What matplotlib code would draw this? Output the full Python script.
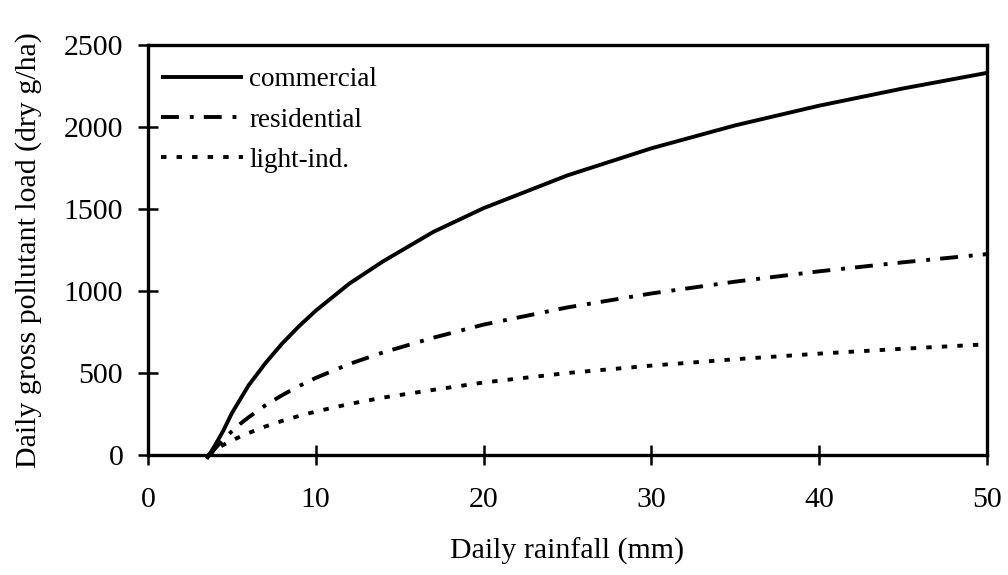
import matplotlib
matplotlib.use("Agg")
import matplotlib.pyplot as plt

# Data
x_com = [3.5, 4, 4.5, 5, 5.5, 6, 7, 8, 9, 10, 12, 14, 17, 20, 25, 30, 35, 40, 45, 50]
y_com = [-24, 60, 150, 255, 340, 425, 560, 680, 785, 880, 1045, 1180, 1360, 1505, 1705, 1870, 2010, 2130, 2235, 2330]

x_res = [3.7, 4, 4.5, 5, 5.5, 6, 7, 8, 9, 10, 12, 14, 17, 20, 25, 30, 35, 40, 45, 50]
y_res = [0, 40, 95, 145, 190, 230, 303, 365, 420, 470, 555, 625, 715, 795, 900, 985, 1057, 1120, 1175, 1225]

x_lin = [3.6, 4, 4.5, 5, 5.5, 6, 7, 8, 9, 10, 12, 14, 17, 20, 25, 30, 35, 40, 45, 50]
y_lin = [0, 31, 62, 88, 112, 134, 174, 208, 238, 265, 311, 350, 397, 442, 500, 545, 584, 618, 648, 675]

x_ticks = [0, 10, 20, 30, 40, 50]
y_ticks = [0, 500, 1000, 1500, 2000, 2500]

plt.rcParams['font.family'] = ['Liberation Serif', 'DejaVu Serif']

fig = plt.figure(figsize=(10.08, 5.75), dpi=100)
ax = fig.add_axes([0.1468, 0.2087, 0.8322, 0.713])

lw = 2.8
ax.plot(x_com, y_com, color='black', lw=lw, solid_capstyle='butt', clip_on=False, label='commercial')
ax.plot(x_res, y_res, color='black', lw=lw, dashes=(4.6, 2.8, 1.0, 2.6), clip_on=False, label='residential')
ax.plot(x_lin, y_lin, color='black', lw=lw, dashes=(1.4, 2.6), clip_on=False, label='light-ind.')

ax.set_xlim(0, 50)
ax.set_ylim(0, 2500)
ax.set_xticks(x_ticks)
ax.set_yticks(y_ticks)
ax.tick_params(axis='both', direction='inout', length=15, width=1.8, labelsize=21.5)
ax.tick_params(axis='y', pad=10.3)
ax.tick_params(axis='x', pad=15.5)
for s in ax.spines.values():
    s.set_linewidth(2.4)

ax.set_xlabel('Daily rainfall (mm)', fontsize=21.5, labelpad=18)
ax.set_ylabel('Daily gross pollutant load (dry g/ha)', fontsize=21.5, labelpad=15.6)

leg = ax.legend(loc='upper left', frameon=False, fontsize=19.5, handlelength=3.0,
                handletextpad=0.25, labelspacing=0.56, borderaxespad=0.0,
                bbox_to_anchor=(0.003, 0.972))

fig.savefig('out.png', dpi=100)
